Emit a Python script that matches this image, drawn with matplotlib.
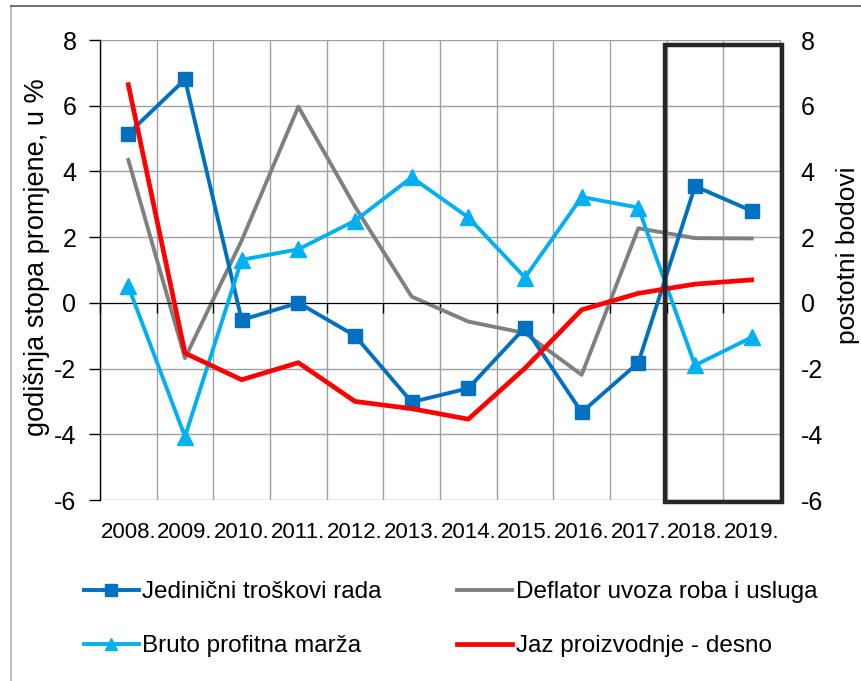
import matplotlib
matplotlib.use("Agg")
import matplotlib.pyplot as plt
from matplotlib import font_manager
from matplotlib.patches import Rectangle
from matplotlib.lines import Line2D

years = ["2008.", "2009.", "2010.", "2011.", "2012.", "2013.", "2014.",
         "2015.", "2016.", "2017.", "2018.", "2019."]
jedinicni = [5.15, 6.8, -0.52, 0.0, -1.0, -3.02, -2.6, -0.75, -3.33, -1.82, 3.55, 2.8]
deflator = [4.35, -1.68, 1.9, 5.97, 2.93, 0.19, -0.57, -0.92, -2.19, 2.27, 1.97, 1.96]
bruto = [0.5, -4.07, 1.31, 1.63, 2.5, 3.82, 2.6, 0.77, 3.22, 2.9, -1.9, -1.05]
jaz = [6.64, -1.53, -2.34, -1.82, -3.0, -3.22, -3.54, -1.99, -0.21, 0.29, 0.57, 0.7]
labels = ["Jedinični troškovi rada", "Deflator uvoza roba i usluga",
          "Bruto profitna marža", "Jaz proizvodnje - desno"]

names = {f.name for f in font_manager.fontManager.ttflist}
narrow = "Liberation Sans Narrow" in names
plt.rcParams['font.family'] = ['Liberation Sans', 'DejaVu Sans']
plt.rcParams['axes.unicode_minus'] = False
nfam = ['Liberation Sans Narrow', 'Liberation Sans'] if narrow else ['Liberation Sans']

W, H = 861, 681
fig = plt.figure(figsize=(W / 100, H / 100), dpi=100)
ax = fig.add_axes([100 / W, 1 - 500 / H, 680 / W, 460 / H])
ax2 = ax.twinx()

x = list(range(len(years)))
ax.set_xlim(-0.5, 11.5)
ax.set_ylim(-6, 8)
ax2.set_ylim(-6, 8)

# grid
ax.set_yticks(range(-6, 9, 2))
ax.set_xticks([i - 0.5 for i in range(len(years) + 1)])
ax.grid(True, color='#A0A0A0', linewidth=1.0)
ax.set_axisbelow(True)
ax.tick_params(axis='x', which='major', direction='out', length=7, width=1,
               color='black', labelbottom=False)
ax.tick_params(axis='y', direction='out', length=8, width=1, color='black',
               labelsize=18, pad=9)
for s in ['top', 'right']:
    ax.spines[s].set_visible(False)
ax.spines['bottom'].set_position(('data', 0))
ax.spines['bottom'].set_color('black')
ax.spines['left'].set_color('black')
ax.spines['left'].set_linewidth(1)

for sp in ax2.spines.values():
    sp.set_visible(False)
ax2.spines['right'].set_visible(True)
ax2.spines['right'].set_color('#A0A0A0')
ax2.set_yticks(range(-6, 9, 2))
ax2.tick_params(axis='y', length=0, labelsize=18, pad=15)

for i, y in enumerate(years):
    ax.annotate(y, (i, 0), xycoords=('data', 'axes fraction'),
                xytext=(0, -27), textcoords='offset points',
                ha='center', va='baseline', fontsize=16)

h1, = ax.plot(x, jedinicni, color='#0070C0', lw=2.8, marker='s',
              markersize=10, label=labels[0], zorder=3)
h2, = ax.plot(x, deflator, color='#808080', lw=2.8, label=labels[1], zorder=2)
h3, = ax.plot(x, bruto, color='#00B0F0', lw=2.8, marker='^',
              markersize=11, label=labels[2], zorder=3)
h4, = ax2.plot(x, jaz, color='#FF0000', lw=3.4, label=labels[3], zorder=3)

rect = Rectangle((9.47, -6.05), 2.06, 13.9, fill=False, edgecolor='#262626',
                 linewidth=3.2, clip_on=False, zorder=5)
ax2.add_patch(rect)

fig.text(37 / W, 1 - 257 / H, "godišnja stopa promjene, u %", rotation=90,
         ha='center', va='center', fontsize=19.5)
fig.text(848 / W, 1 - 255 / H, "postotni bodovi", rotation=90,
         ha='center', va='center', fontsize=19)

if narrow:
    lfs, hl, cs, ls = 21, 1.9, 2.5, 0.75
else:
    lfs, hl, cs, ls = 17.5, 2.25, 3.1, 1.33
fig.legend([h1, h3, h2, h4], [labels[0], labels[2], labels[1], labels[3]],
           ncol=2, loc='upper left', bbox_to_anchor=(84 / W, 1 - 581 / H),
           frameon=False, borderpad=0, borderaxespad=0,
           handlelength=hl, handletextpad=0.15, columnspacing=cs,
           labelspacing=ls, prop={'family': nfam, 'size': lfs},
           markerscale=0.8)

# outer frame (cut at right and bottom)
fig.add_artist(Line2D([11 / W, 11 / W], [0, 1 - 6 / H], color='#BFBFBF',
                      lw=1.5, transform=fig.transFigure))
fig.add_artist(Line2D([11 / W, 1], [1 - 6 / H, 1 - 6 / H], color='#595959',
                      lw=1.2, transform=fig.transFigure))

fig.savefig("out.png", dpi=100)
